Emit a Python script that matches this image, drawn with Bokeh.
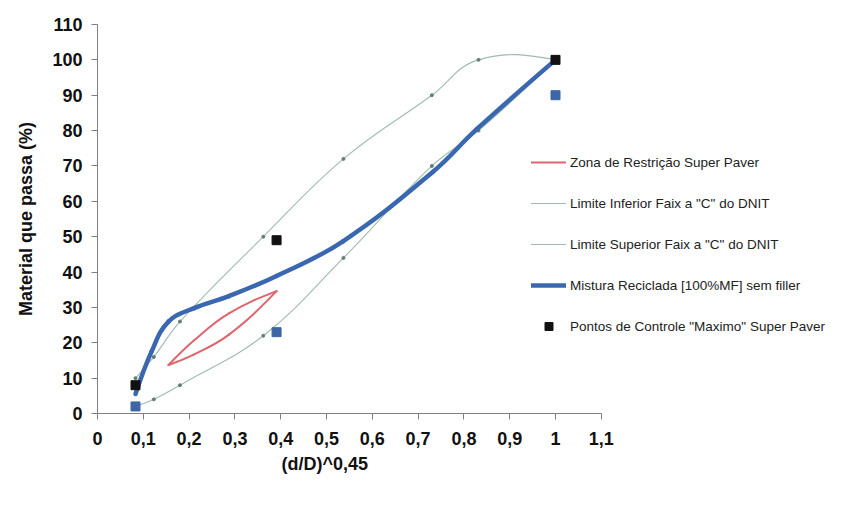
import numpy as np
from bokeh.plotting import figure
from bokeh.models import Range1d, FixedTicker, Legend, LegendItem, ColumnDataSource, Title
from bokeh.embed import file_html
from bokeh.resources import INLINE

# ---------------- data ----------------
# DNIT faixa "C" limits at (d/D)^0.45
x_dnit = [0.083, 0.123, 0.180, 0.362, 0.537, 0.730, 0.832, 1.0]
lim_inf = [2, 4, 8, 22, 44, 70, 80, 100]
lim_sup = [10, 16, 26, 50, 72, 90, 100, 100]

# Mistura reciclada [100%MF] sem filler
x_mist = [0.083, 0.118, 0.155, 0.211, 0.287, 0.391, 0.536, 0.732, 0.828, 1.0]
mistura = [5.5, 17.5, 26.0, 29.8, 33.2, 38.9, 48.7, 68.3, 80.4, 100]

# Zona de restricao Super Pave
x_zona = [0.155, 0.211, 0.287, 0.391]
zona_inf = [13.7, 16.7, 22.3, 34.6]
zona_sup = [13.7, 20.7, 28.3, 34.6]

# Pontos de controle Super Pave
x_ctrl = [0.083, 0.391, 1.0]
ctrl_max = [8, 49, 100]
ctrl_min = [2, 23, 90]

x_ticks = [0, 0.1, 0.2, 0.3, 0.4, 0.5, 0.6, 0.7, 0.8, 0.9, 1.0, 1.1]
x_tick_labels = ["0", "0,1", "0,2", "0,3", "0,4", "0,5", "0,6", "0,7", "0,8", "0,9", "1", "1,1"]
y_ticks = [0, 10, 20, 30, 40, 50, 60, 70, 80, 90, 100, 110]

# ---------------- layout ----------------
W, H = 827, 491
LEFT, TOP, BOTTOM = 97, 24, 78
FRAME_W = W - LEFT
FRAME_H = H - TOP - BOTTOM
SX = 458.0                 # px per x unit
SY = FRAME_H / 110.0       # px per y unit
XMAX = FRAME_W / SX

RED = "#e0646c"
BLUE = "#3a68b0"
LIM = "#9fbcae"
DOT = "#5f7f70"
FONT = "Liberation Sans"

p = figure(width=W, height=H, output_backend="svg", toolbar_location=None,
           x_range=Range1d(0, XMAX), y_range=Range1d(0, 110),
           min_border_left=LEFT, min_border_right=0,
           min_border_top=TOP, min_border_bottom=BOTTOM)
p.outline_line_color = None
p.xgrid.visible = False
p.ygrid.visible = False
p.background_fill_color = "white"
p.border_fill_color = "white"


def smooth_segments(xs, ys, f=0.4):
    """Bezier control points (Excel-like smoothing) computed in screen space."""
    P = np.column_stack([np.asarray(xs, float) * SX, np.asarray(ys, float) * SY])
    n = len(P)
    tang = [None] * n
    for i in range(1, n - 1):
        d = P[i + 1] - P[i - 1]
        tang[i] = d / np.linalg.norm(d)
    cols = dict(x0=[], y0=[], x1=[], y1=[], cx0=[], cy0=[], cx1=[], cy1=[])
    for i in range(n - 1):
        p1, p2 = P[i], P[i + 1]
        L = np.linalg.norm(p2 - p1)
        t1, t2 = tang[i], tang[i + 1]
        if t1 is None and t2 is None:
            c1 = p1 + (p2 - p1) * f
            c2 = p2 - (p2 - p1) * f
        elif t1 is None:
            c2 = p2 - t2 * L * f
            dd = c2 - p1
            c1 = p1 + dd / np.linalg.norm(dd) * L * f
        elif t2 is None:
            c1 = p1 + t1 * L * f
            dd = p2 - c1
            c2 = p2 - dd / np.linalg.norm(dd) * L * f
        else:
            c1 = p1 + t1 * L * f
            c2 = p2 - t2 * L * f
        cols["x0"].append(p1[0] / SX); cols["y0"].append(p1[1] / SY)
        cols["x1"].append(p2[0] / SX); cols["y1"].append(p2[1] / SY)
        cols["cx0"].append(c1[0] / SX); cols["cy0"].append(c1[1] / SY)
        cols["cx1"].append(c2[0] / SX); cols["cy1"].append(c2[1] / SY)
    return ColumnDataSource(cols)


def draw_curve(xs, ys, color, width):
    return p.bezier(x0="x0", y0="y0", x1="x1", y1="y1", cx0="cx0", cy0="cy0",
                    cx1="cx1", cy1="cy1", source=smooth_segments(xs, ys),
                    line_color=color, line_width=width, line_cap="round")


# limit lines
r_inf = draw_curve(x_dnit, lim_inf, LIM, 1.1)
p.scatter(x_dnit, lim_inf, size=3, color=DOT)
r_sup = draw_curve(x_dnit, lim_sup, LIM, 1.1)
p.scatter(x_dnit, lim_sup, size=3, color=DOT)

# restricted zone
r_zona = draw_curve(x_zona, zona_inf, RED, 2)
draw_curve(x_zona, zona_sup, RED, 2)

# recycled mix
r_mist = draw_curve(x_mist, mistura, BLUE, 4.5)

# control points
p.scatter(x_ctrl, ctrl_min, marker="square", size=9, color="#3d66a6")
r_ctrl = p.scatter(x_ctrl, ctrl_max, marker="square", size=9, color="#111111")

# ---------------- axes ----------------
p.xaxis.ticker = FixedTicker(ticks=x_ticks)
p.xaxis.major_label_overrides = {t: l for t, l in zip(x_ticks, x_tick_labels)}
p.xaxis.bounds = (0, 1.1)
p.yaxis.ticker = FixedTicker(ticks=y_ticks)
for ax in (p.xaxis[0], p.yaxis[0]):
    ax.axis_line_color = "#808080"
    ax.major_tick_line_color = "#808080"
    ax.major_tick_out = 6
    ax.major_tick_in = 0
    ax.minor_tick_out = 0
    ax.minor_tick_in = 0
    ax.major_label_text_font = FONT
    ax.major_label_text_font_style = "bold"
    ax.major_label_text_font_size = "18px"
    ax.major_label_text_color = "#111111"
    ax.axis_label_text_font = FONT
    ax.axis_label_text_font_style = "bold"
    ax.axis_label_text_font_size = "18px"
    ax.axis_label_text_color = "#111111"
p.xaxis.major_label_standoff = 12
p.yaxis.major_label_standoff = 9
p.yaxis.axis_label = "Material que passa (%)"
p.yaxis.axis_label_standoff = 13

xtitle = Title(text="(d/D)^0,45", align="left", offset=184, standoff=8,
               text_font=FONT, text_font_style="bold", text_font_size="18px",
               text_color="#111111")
p.add_layout(xtitle, "below")

# ---------------- legend ----------------
legend = Legend(items=[
    LegendItem(label="Zona de Restrição Super Paver", renderers=[r_zona], index=0),
    LegendItem(label='Limite Inferior Faix a "C" do DNIT', renderers=[r_inf], index=0),
    LegendItem(label='Limite Superior Faix a "C" do DNIT', renderers=[r_sup], index=0),
    LegendItem(label="Mistura Reciclada [100%MF] sem filler", renderers=[r_mist], index=0),
    LegendItem(label='Pontos de Controle "Maximo" Super Paver', renderers=[r_ctrl], index=0),
], location=(434, 77))
legend.border_line_color = None
legend.background_fill_alpha = 0
legend.padding = 0
legend.margin = 0
legend.glyph_width = 35
legend.glyph_height = 20
legend.label_height = 20
legend.spacing = 21
legend.label_standoff = 4
legend.label_text_font = FONT
legend.label_text_font_size = "13.5px"
legend.label_text_color = "#222222"
p.add_layout(legend)

open("out.html", "w").write(file_html(p, INLINE))
